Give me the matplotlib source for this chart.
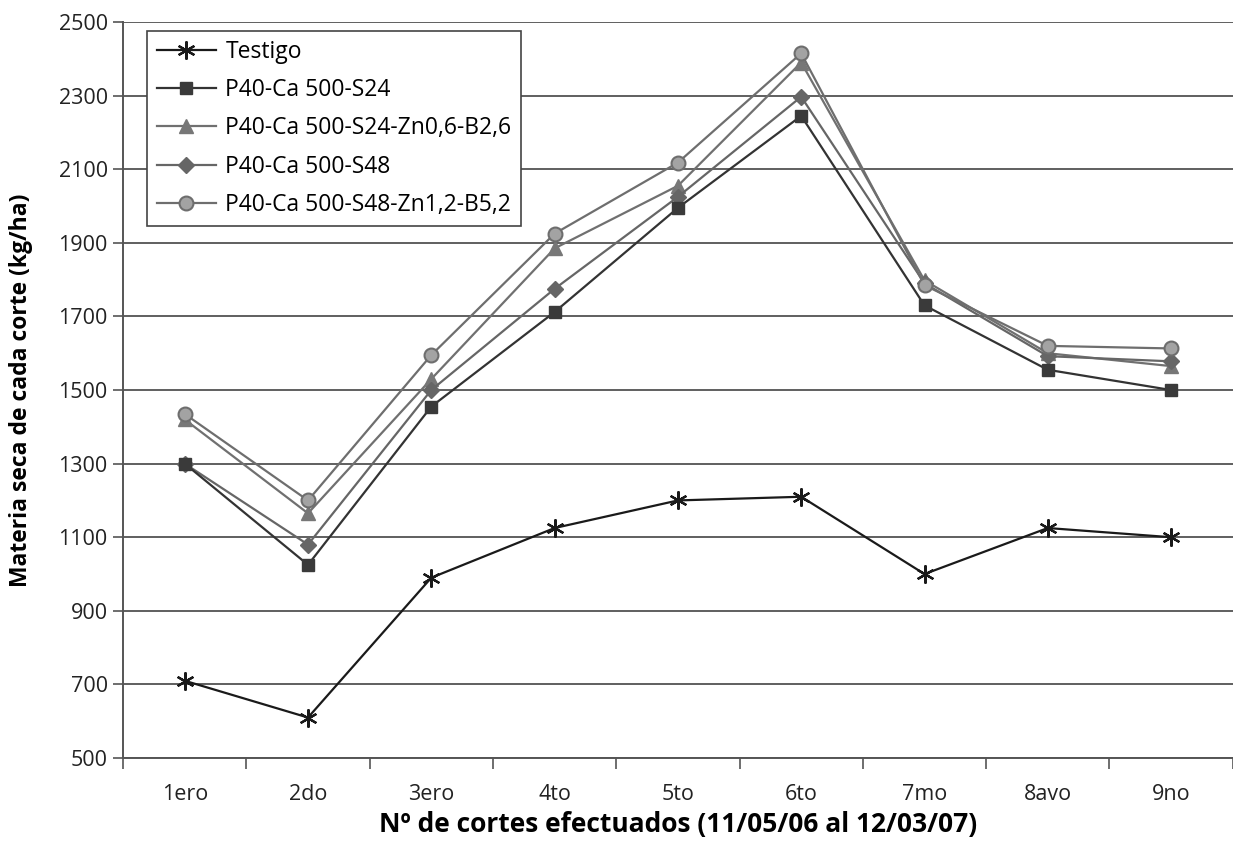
import matplotlib.pyplot as plt
import numpy as np

plt.rcParams['font.family'] = ['Open Sans', 'DejaVu Sans']

cortes = ['1ero', '2do', '3ero', '4to', '5to', '6to', '7mo', '8avo', '9no']

testigo = [710, 610, 990, 1125, 1200, 1210, 1000, 1125, 1100]
s24 = [1300, 1025, 1455, 1712, 1995, 2245, 1730, 1555, 1500]
s24_zn = [1420, 1165, 1530, 1885, 2055, 2390, 1798, 1600, 1565]
s48 = [1300, 1080, 1500, 1775, 2025, 2297, 1790, 1592, 1578]
s48_zn = [1435, 1200, 1595, 1925, 2118, 2415, 1785, 1620, 1613]

fig = plt.figure(figsize=(12.33, 8.61), dpi=100)
ax = fig.add_axes([0.0998, 0.1196, 0.9, 0.8548])

x = np.arange(len(cortes))

ax.plot(x, testigo, color='#1a1a1a', lw=1.6, marker=(6, 2, 0), markersize=13,
        markeredgewidth=1.6, label='Testigo', zorder=5)
ax.plot(x, s24, color='#333333', lw=1.6, marker='s', markersize=9,
        markerfacecolor='#3a3a3a', markeredgecolor='#3a3a3a', label='P40-Ca 500-S24', zorder=4)
ax.plot(x, s24_zn, color='#707070', lw=1.6, marker='^', markersize=10,
        markerfacecolor='#777777', markeredgecolor='#777777', label='P40-Ca 500-S24-Zn0,6-B2,6', zorder=3)
ax.plot(x, s48, color='#666666', lw=1.6, marker='D', markersize=8,
        markerfacecolor='#666666', markeredgecolor='#666666', label='P40-Ca 500-S48', zorder=3)
ax.plot(x, s48_zn, color='#6e6e6e', lw=1.6, marker='o', markersize=10,
        markerfacecolor='#a3a3a3', markeredgecolor='#6e6e6e', markeredgewidth=1.5,
        label='P40-Ca 500-S48-Zn1,2-B5,2', zorder=3)

ax.set_xlim(-0.5, len(cortes) - 0.5)
ax.set_ylim(500, 2500)
ax.set_yticks(np.arange(500, 2501, 200))
ax.set_xticks(x)
ax.set_xticklabels(cortes)
ax.set_xticks(np.arange(-0.5, len(cortes), 1), minor=True)
ax.tick_params(axis='x', which='major', length=0, pad=19, labelsize=15.5, colors='#222222')
ax.tick_params(axis='x', which='minor', length=8, width=1.2, color='#555555')
ax.tick_params(axis='y', length=7, width=1.2, color='#555555', labelsize=15.5,
               labelcolor='#222222', pad=4)

ax.grid(axis='y', color='#444444', lw=1.2)
ax.set_axisbelow(True)
for s in ['top', 'right']:
    ax.spines[s].set_visible(False)
for s in ['left', 'bottom']:
    ax.spines[s].set_color('#555555')
    ax.spines[s].set_linewidth(1.4)

ax.set_ylabel('Materia seca de cada corte (kg/ha)', fontsize=16.5, fontweight='bold', labelpad=18)
ax.set_xlabel('Nº de cortes efectuados (11/05/06 al 12/03/07)', fontsize=19,
              fontweight='bold', labelpad=4)

leg = ax.legend(loc='upper left', bbox_to_anchor=(0.022, 0.988), fontsize=16.5,
                frameon=True, fancybox=False, handlelength=2.6, borderpad=0.4,
                labelspacing=0.62, handletextpad=0.4, borderaxespad=0)
leg.get_frame().set_edgecolor('#444444')
leg.get_frame().set_linewidth(1.2)
leg.get_frame().set_alpha(1)

fig.savefig('out.png', dpi=100)
